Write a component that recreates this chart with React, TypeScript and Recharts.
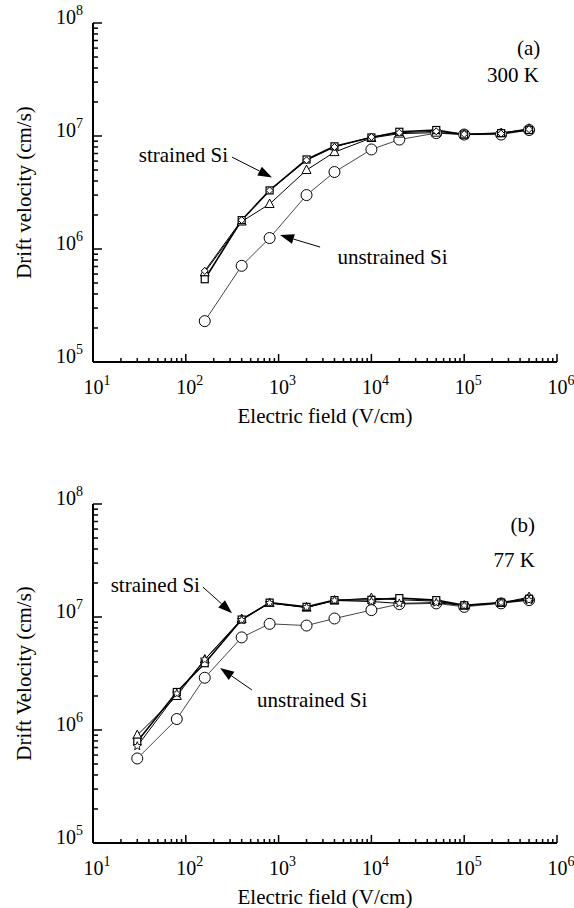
import React from "react";
import { LineChart, Line, XAxis, YAxis, ReferenceLine, ReferenceDot } from "recharts";

// (a) 300 K
const fieldA = [160, 400, 800, 2000, 4000, 10000, 20000, 50000, 100000, 250000, 500000];
const strainedSqA = [5.4e5, 1.8e6, 3.3e6, 6.2e6, 8.1e6, 9.7e6, 1.09e7, 1.13e7, 1.03e7, 1.06e7, 1.13e7];
const strainedTriA = [6.2e5, 1.75e6, 2.5e6, 5.0e6, 7.2e6, 9.6e6, 1.05e7, 1.07e7, 1.03e7, 1.06e7, 1.16e7];
const strainedDiaA = [6.4e5, 1.8e6, 3.3e6, 6.1e6, 8.0e6, 9.8e6, 1.07e7, 1.1e7, 1.04e7, 1.05e7, 1.15e7];
const unstrainedA = [2.3e5, 7.1e5, 1.25e6, 3.0e6, 4.8e6, 7.6e6, 9.3e6, 1.06e7, 1.03e7, 1.03e7, 1.13e7];

// (b) 77 K
const fieldB = [30, 80, 160, 400, 800, 2000, 4000, 10000, 20000, 50000, 100000, 250000, 500000];
const strainedSqB = [7.9e5, 2.17e6, 3.9e6, 9.5e6, 1.34e7, 1.23e7, 1.41e7, 1.42e7, 1.47e7, 1.41e7, 1.27e7, 1.34e7, 1.45e7];
const strainedTriB = [9.0e5, 2.0e6, 4.2e6, 9.6e6, 1.33e7, 1.21e7, 1.4e7, 1.47e7, 1.42e7, 1.38e7, 1.26e7, 1.33e7, 1.5e7];
const strainedStarB = [7.2e5, 2.1e6, 4.2e6, 9.4e6, 1.33e7, 1.22e7, 1.4e7, 1.37e7, 1.32e7, 1.34e7, 1.26e7, 1.34e7, 1.41e7];
const unstrainedB = [5.6e5, 1.25e6, 2.9e6, 6.6e6, 8.7e6, 8.4e6, 9.7e6, 1.15e7, 1.3e7, 1.32e7, 1.23e7, 1.32e7, 1.41e7];

const X_MAJOR = [10, 100, 1000, 10000, 100000, 1000000];
const Y_MAJOR = [1e5, 1e6, 1e7, 1e8];
const MULTS = [2, 3, 4, 5, 6, 7, 8, 9];

const withMinor = (major: number[]) =>
  major.flatMap((m, i) => (i === major.length - 1 ? [m] : [m, ...MULTS.map((k) => m * k)]));
const xTicks = withMinor(X_MAJOR);
const yTicks = withMinor(Y_MAJOR);

const FONT = "'Liberation Serif', 'DejaVu Serif', serif";
const TEXT = 21;

const isMajor = (v: number) => Math.abs(Math.log10(v) - Math.round(Math.log10(v))) < 1e-6;

function Pow({ x, y, v, anchor }: { x: number; y: number; v: number; anchor: string }) {
  return (
    <text x={x} y={y} textAnchor={anchor} fontFamily={FONT} fontSize={20} fill="#000">
      10
      <tspan dy={-9} fontSize={14}>
        {Math.round(Math.log10(v))}
      </tspan>
    </text>
  );
}

const BottomTick = (p: any) => {
  const major = isMajor(p.payload.value);
  return (
    <g>
      <line x1={p.x} x2={p.x} y1={p.y} y2={p.y - (major ? 8 : 4)} stroke="#000" strokeWidth={1.5} />
      {major && <Pow x={p.x + 4} y={p.y + 32} v={p.payload.value} anchor="middle" />}
    </g>
  );
};
const TopTick = (p: any) => {
  const major = isMajor(p.payload.value);
  return <line x1={p.x} x2={p.x} y1={p.y} y2={p.y + (major ? 8 : 4)} stroke="#000" strokeWidth={1.5} />;
};
const LeftTick = (p: any) => {
  const major = isMajor(p.payload.value);
  return (
    <g>
      <line x1={p.x} x2={p.x + (major ? 9 : 5)} y1={p.y} y2={p.y} stroke="#000" strokeWidth={1.5} />
      {major && <Pow x={p.x - 10} y={p.y + 1} v={p.payload.value} anchor="end" />}
    </g>
  );
};
const RightTick = (p: any) => {
  const major = isMajor(p.payload.value);
  return <line x1={p.x} x2={p.x - (major ? 9 : 5)} y1={p.y} y2={p.y} stroke="#000" strokeWidth={1.5} />;
};

const circleDot = (p: any) => (
  <circle key={p.index} cx={p.cx} cy={p.cy} r={5.5} fill="#fff" stroke="#000" strokeWidth={1} />
);
const squareDot = (p: any) => (
  <rect key={p.index} x={p.cx - 3.5} y={p.cy - 3.5} width={7} height={7} fill="#fff" stroke="#000" strokeWidth={1.2} />
);
const triDot = (p: any) => (
  <polygon
    key={p.index}
    points={`${p.cx},${p.cy - 5} ${p.cx + 4.5},${p.cy + 3.5} ${p.cx - 4.5},${p.cy + 3.5}`}
    fill="#fff"
    stroke="#000"
    strokeWidth={1}
  />
);
const diaDot = (p: any) => (
  <polygon
    key={p.index}
    points={`${p.cx},${p.cy - 3.5} ${p.cx + 3.5},${p.cy} ${p.cx},${p.cy + 3.5} ${p.cx - 3.5},${p.cy}`}
    fill="#fff"
    stroke="#000"
    strokeWidth={1}
  />
);
const starDot = (p: any) => {
  const pts: string[] = [];
  for (let k = 0; k < 10; k++) {
    const r = k % 2 === 0 ? 4.5 : 2;
    const a = -Math.PI / 2 + (k * Math.PI) / 5;
    pts.push(`${p.cx + r * Math.cos(a)},${p.cy + r * Math.sin(a)}`);
  }
  return <polygon key={p.index} points={pts.join(" ")} fill="#fff" stroke="#000" strokeWidth={0.9} />;
};

const Arrow = (p: any) => {
  const { x1, y1, x2, y2 } = p;
  const a = Math.atan2(y2 - y1, x2 - x1);
  const len = 14;
  const w = 5;
  const bx = x2 - len * Math.cos(a);
  const by = y2 - len * Math.sin(a);
  const nx = -Math.sin(a) * w;
  const ny = Math.cos(a) * w;
  return (
    <g>
      <line x1={x1} y1={y1} x2={bx} y2={by} stroke="#000" strokeWidth={1} />
      <polygon points={`${x2},${y2} ${bx + nx},${by + ny} ${bx - nx},${by - ny}`} fill="#000" />
    </g>
  );
};

const label = (text: string, anchor: string) => (p: any) =>
  (
    <text x={p.cx} y={p.cy} dy={7} textAnchor={anchor} fontFamily={FONT} fontSize={TEXT} fill="#000">
      {text}
    </text>
  );

interface Note {
  x: number;
  y: number;
  text: string;
  anchor: string;
}
interface Arr {
  from: [number, number];
  to: [number, number];
}

interface PanelProps {
  field: number[];
  sq: number[];
  tri: number[];
  extra: number[];
  extraDot: (p: any) => React.ReactElement;
  unstrained: number[];
  yTitle: string;
  notes: Note[];
  arrows: Arr[];
}

function Panel({ field, sq, tri, extra, extraDot, unstrained, yTitle, notes, arrows }: PanelProps) {
  const data = field.map((f, i) => ({ f, sq: sq[i], tri: tri[i], extra: extra[i], un: unstrained[i] }));
  return (
    <LineChart width={574} height={440} data={data} margin={{ top: 23, right: 17, bottom: 0, left: 0 }}>
      <XAxis
        xAxisId="b"
        dataKey="f"
        type="number"
        scale="log"
        domain={[10, 1000000]}
        allowDataOverflow
        ticks={xTicks}
        interval={0}
        tick={BottomTick}
        tickLine={false}
        tickSize={0}
        tickMargin={0}
        height={78}
        axisLine={{ stroke: "#000", strokeWidth: 2 }}
        label={{
          content: (lp: any) => {
            const vb = lp.viewBox;
            return (
              <text x={vb.x + vb.width / 2} y={vb.y + 61} textAnchor="middle" fontFamily={FONT} fontSize={TEXT} fill="#000">
                Electric field (V/cm)
              </text>
            );
          },
        }}
      />
      <XAxis
        xAxisId="t"
        orientation="top"
        dataKey="f"
        type="number"
        scale="log"
        domain={[10, 1000000]}
        allowDataOverflow
        ticks={xTicks}
        interval={0}
        tick={TopTick}
        tickLine={false}
        tickSize={0}
        tickMargin={0}
        height={0}
        axisLine={{ stroke: "#000", strokeWidth: 2 }}
      />
      <YAxis
        yAxisId="l"
        type="number"
        scale="log"
        domain={[1e5, 1e8]}
        allowDataOverflow
        ticks={yTicks}
        interval={0}
        tick={LeftTick}
        tickLine={false}
        tickSize={0}
        tickMargin={0}
        width={93}
        axisLine={{ stroke: "#000", strokeWidth: 2 }}
        label={{
          content: (lp: any) => {
            const vb = lp.viewBox;
            const cx = vb.x + 24;
            const cy = vb.y + vb.height / 2;
            return (
              <text
                x={cx}
                y={cy}
                transform={`rotate(-90 ${cx} ${cy})`}
                textAnchor="middle"
                dominantBaseline="central"
                fontFamily={FONT}
                fontSize={TEXT}
                fill="#000"
              >
                {yTitle}
              </text>
            );
          },
        }}
      />
      <YAxis
        yAxisId="r"
        orientation="right"
        type="number"
        scale="log"
        domain={[1e5, 1e8]}
        allowDataOverflow
        ticks={yTicks}
        interval={0}
        tick={RightTick}
        tickLine={false}
        tickSize={0}
        tickMargin={0}
        width={0}
        axisLine={{ stroke: "#000", strokeWidth: 2 }}
      />
      {/* hidden series so the top/right axes own a domain */}
      <Line xAxisId="t" yAxisId="r" dataKey="un" stroke="none" dot={false} activeDot={false} isAnimationActive={false} />
      <Line xAxisId="b" yAxisId="l" dataKey="un" stroke="#333" strokeWidth={0.9} dot={circleDot} activeDot={false} isAnimationActive={false} />
      <Line xAxisId="b" yAxisId="l" dataKey="tri" stroke="#000" strokeWidth={1} dot={triDot} activeDot={false} isAnimationActive={false} />
      <Line xAxisId="b" yAxisId="l" dataKey="sq" stroke="#000" strokeWidth={1.6} dot={squareDot} activeDot={false} isAnimationActive={false} />
      <Line xAxisId="b" yAxisId="l" dataKey="extra" stroke="#000" strokeWidth={1} dot={extraDot} activeDot={false} isAnimationActive={false} />
      {arrows.map((a, i) => (
        <ReferenceLine
          key={`ar${i}`}
          xAxisId="b"
          yAxisId="l"
          segment={[
            { x: a.from[0], y: a.from[1] },
            { x: a.to[0], y: a.to[1] },
          ]}
          shape={Arrow}
          ifOverflow="visible"
        />
      ))}
      {notes.map((n, i) => (
        <ReferenceDot
          key={`nt${i}`}
          xAxisId="b"
          yAxisId="l"
          x={n.x}
          y={n.y}
          r={0}
          shape={label(n.text, n.anchor)}
          ifOverflow="visible"
        />
      ))}
    </LineChart>
  );
}

const notesA: Note[] = [
  { x: 6.6e5, y: 6.0e7, text: "(a)", anchor: "end" },
  { x: 6.4e5, y: 3.5e7, text: "300 K", anchor: "end" },
  { x: 285, y: 6.8e6, text: "strained Si", anchor: "end" },
  { x: 4300, y: 8.5e5, text: "unstrained Si", anchor: "start" },
];
const arrowsA: Arr[] = [
  { from: [315, 6.5e6], to: [850, 4.3e6] },
  { from: [2800, 1.04e6], to: [1035, 1.33e6] },
];
const notesB: Note[] = [
  { x: 5.8e5, y: 6.5e7, text: "(b)", anchor: "end" },
  { x: 5.8e5, y: 3.2e7, text: "77 K", anchor: "end" },
  { x: 142, y: 1.92e7, text: "strained Si", anchor: "end" },
  { x: 585, y: 1.84e6, text: "unstrained Si", anchor: "start" },
];
const arrowsB: Arr[] = [
  { from: [153, 1.84e7], to: [315, 1.08e7] },
  { from: [516, 2.26e6], to: [234, 3.54e6] },
];

export default function App() {
  return (
    <div style={{ position: "absolute", left: 0, top: 0, width: 574, height: 908, background: "#fff", overflow: "hidden" }}>
      <div style={{ position: "absolute", left: 0, top: 0 }}>
        <Panel
          field={fieldA}
          sq={strainedSqA}
          tri={strainedTriA}
          extra={strainedDiaA}
          extraDot={diaDot}
          unstrained={unstrainedA}
          yTitle="Drift velocity (cm/s)"
          notes={notesA}
          arrows={arrowsA}
        />
      </div>
      <div style={{ position: "absolute", left: 0, top: 481 }}>
        <Panel
          field={fieldB}
          sq={strainedSqB}
          tri={strainedTriB}
          extra={strainedStarB}
          extraDot={starDot}
          unstrained={unstrainedB}
          yTitle="Drift Velocity (cm/s)"
          notes={notesB}
          arrows={arrowsB}
        />
      </div>
    </div>
  );
}
